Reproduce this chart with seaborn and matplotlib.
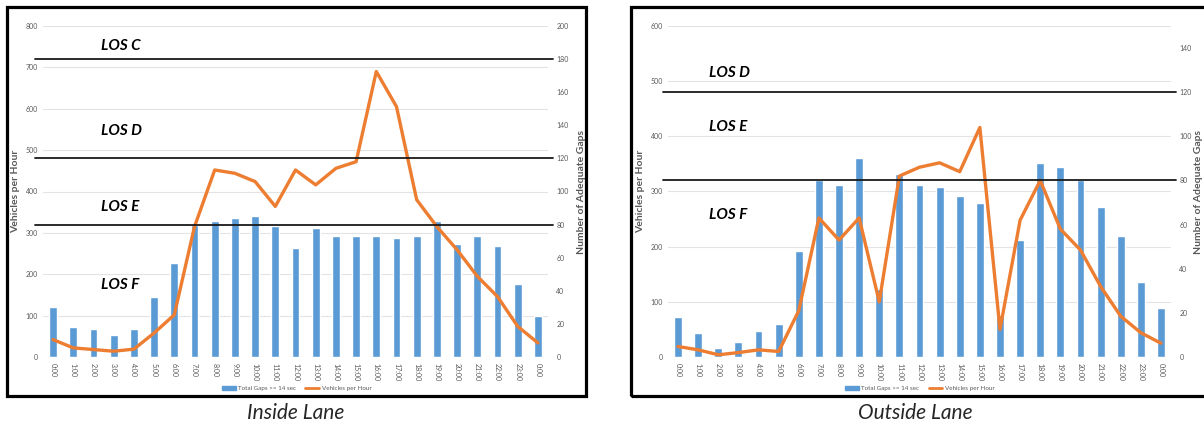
import numpy as np
import matplotlib
matplotlib.use('Agg')
import matplotlib.pyplot as plt
import seaborn as sns
from matplotlib.patches import Rectangle
from matplotlib.lines import Line2D
from matplotlib.ticker import MultipleLocator

sns.set_style("white")
plt.rcParams['font.family'] = ['Lato', 'DejaVu Sans']

# Data
hours = ['0:00', '1:00', '2:00', '3:00', '4:00', '5:00', '6:00', '7:00', '8:00', '9:00',
         '10:00', '11:00', '12:00', '13:00', '14:00', '15:00', '16:00', '17:00', '18:00',
         '19:00', '20:00', '21:00', '22:00', '23:00', '0:00']

# Inside lane
inside_gaps = [30, 18, 17, 13, 17, 36, 57, 80, 82, 84, 85, 79, 66, 78, 73, 73, 73, 72, 73,
               82, 68, 73, 67, 44, 25]
inside_vph = [42, 22, 18, 14, 19, 58, 102, 315, 452, 444, 424, 364, 452, 416, 456, 472, 690,
              605, 380, 315, 259, 195, 146, 74, 34]

# Outside lane
outside_gaps = [18, 11, 4, 7, 12, 15, 48, 80, 78, 90, 31, 83, 78, 77, 73, 70, 19, 53, 88, 86,
                80, 68, 55, 34, 22]
outside_vph = [19, 13, 4, 8, 13, 10, 84, 252, 212, 252, 100, 328, 344, 352, 336, 416, 50, 248,
               320, 232, 194, 128, 74, 44, 25]

# LOS thresholds (vehicles per hour)
inside_los = {'LOS C': 720, 'LOS D': 480, 'LOS E': 320}
inside_los_labels = [('LOS C', 752), ('LOS D', 547), ('LOS E', 363), ('LOS F', 175)]
outside_los = {'LOS D': 480, 'LOS E': 320}
outside_los_labels = [('LOS D', 515), ('LOS E', 417), ('LOS F', 258)]

BLUE = '#5B9BD5'
ORANGE = '#ED7D31'
GREY = '#595959'

fig = plt.figure(figsize=(12.04, 4.25), dpi=100)


def lane_chart(rect, gaps, vph, vmax, gmax, gticks, los, los_labels, label_x, line_ext,
               legend_x, right_pad):
    ax = fig.add_axes(rect)
    ax2 = ax.twinx()
    x = np.arange(len(hours))

    sns.barplot(x=x, y=gaps, ax=ax2, color=BLUE, width=0.39, saturation=1)
    sns.lineplot(x=x, y=vph, ax=ax, color=ORANGE, linewidth=2.4)
    ax.lines[-1].set_solid_joinstyle('round')
    ax.lines[-1].set_solid_capstyle('round')

    ax.set_zorder(ax2.get_zorder() + 1)
    ax.patch.set_visible(False)

    ax.set_xlim(-0.5, len(hours) - 0.5)
    ax.set_ylim(0, vmax)
    ax.set_yticks(np.arange(0, vmax + 1, 100))
    ax2.set_ylim(0, gmax)
    ax2.set_yticks(gticks)

    # light gridlines behind the bars, one per left-axis step
    ax2.yaxis.set_minor_locator(MultipleLocator(gmax / (vmax / 100)))
    ax2.yaxis.remove_overlapping_locs = False
    ax2.grid(which='minor', color='#E3E3E3', linewidth=0.8)
    ax2.set_axisbelow(True)

    ax.set_xticks(x)
    ax.set_xticklabels(hours, rotation=-90)
    ax.tick_params(axis='x', length=0, labelsize=5, labelcolor=GREY, pad=4)
    ax.tick_params(axis='y', length=0, labelsize=5, labelcolor=GREY, pad=3.5)
    ax2.tick_params(axis='y', which='both', length=0, labelsize=5, labelcolor=GREY, pad=6)

    ax.set_xlabel('')
    ax.set_ylabel('Vehicles per Hour', fontsize=7.5, fontweight='bold', color=GREY, labelpad=4)
    ax2.set_ylabel('Number of Adequate Gaps', fontsize=7.5, fontweight='bold', color=GREY,
                   labelpad=right_pad)

    for spine in list(ax.spines.values()) + list(ax2.spines.values()):
        spine.set_visible(False)

    for name, val in los.items():
        ax.plot(line_ext, [val, val], transform=ax.get_yaxis_transform(), color='#1A1A1A',
                linewidth=1.3, clip_on=False, zorder=5)
    for name, ypos in los_labels:
        ax.text(label_x, ypos, name, fontsize=11, fontweight='bold', fontstyle='italic',
                ha='left', va='center', color='black')

    handles = [Rectangle((0, 0), 1, 1, color=BLUE),
               Line2D([0], [0], color=ORANGE, linewidth=2)]
    fig.legend(handles, ['Total Gaps >= 14 sec', 'Vehicles per Hour'], loc='center',
               bbox_to_anchor=(legend_x, 0.085), ncol=2, frameon=False, fontsize=4.5,
               labelcolor=GREY, handlelength=2.2, handleheight=0.6, columnspacing=1.5,
               handletextpad=0.4)
    return ax, ax2


lane_chart([43 / 1204, 1 - 357 / 425, 505 / 1204, 331 / 425], inside_gaps, inside_vph,
           800, 200, np.arange(0, 201, 20), inside_los, inside_los_labels, 2.37,
           [-0.016, 1.01], 0.2464, 6)
lane_chart([668 / 1204, 1 - 357 / 425, 503 / 1204, 331 / 425], outside_gaps, outside_vph,
           600, 150, np.arange(0, 141, 20), outside_los, outside_los_labels, 1.54,
           [-0.01, 1.01], 0.764, 2)

# black frames round each chart
fig.patches.append(Rectangle((7 / 1204, 1 - 396 / 425), 579 / 1204, 389 / 425,
                             transform=fig.transFigure, fill=False, edgecolor='black',
                             linewidth=2.3))
fig.patches.append(Rectangle((631 / 1204, 1 - 396 / 425), 600 / 1204, 389 / 425,
                             transform=fig.transFigure, fill=False, edgecolor='black',
                             linewidth=2.3))

fig.text(296 / 1204, 1 - 413 / 425, 'Inside Lane', fontsize=15, fontstyle='italic',
         ha='center', va='center')
fig.text(915 / 1204, 1 - 413 / 425, 'Outside Lane', fontsize=15, fontstyle='italic',
         ha='center', va='center')

fig.savefig('out.png', dpi=100)
